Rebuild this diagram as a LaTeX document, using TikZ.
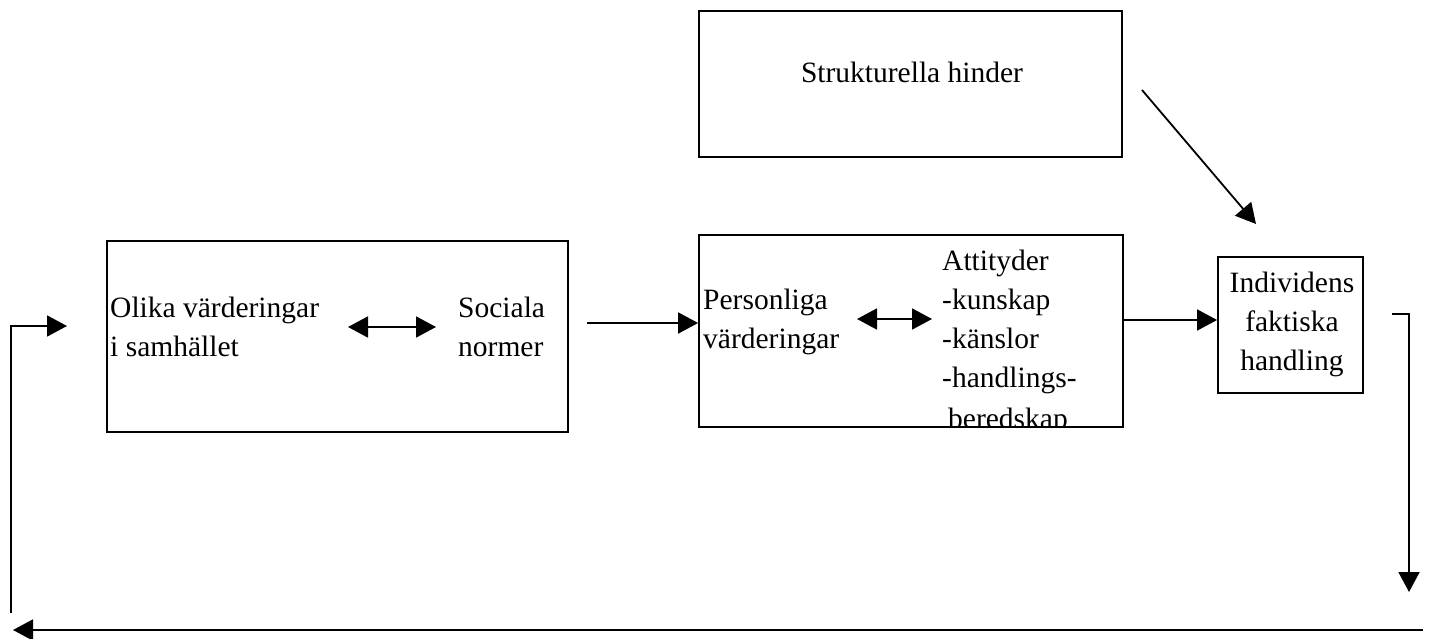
\documentclass[tikz,border=0pt]{standalone}
\usepackage{fontspec}
\setmainfont{Liberation Serif}
\usetikzlibrary{arrows.meta}
\begin{document}
\begin{tikzpicture}[x=1pt,y=-1pt,
  box/.style={draw, line width=1.8pt, inner sep=0pt},
  txt/.style={inner sep=0pt, font=\fontsize{29.5}{39}\selectfont},
  lbl/.style={txt, anchor=base west},
  clbl/.style={txt, anchor=base},
  tip/.tip={Triangle[length=20pt,width=21pt]},
  arr/.style={line width=1.8pt, -tip},
  darr/.style={line width=1.8pt, tip-tip},
  line/.style={line width=1.8pt}]
  \useasboundingbox (0,0) rectangle (1429,639);

  % Strukturella hinder
  \node[box, minimum width=423pt, minimum height=146pt] (hinder) at (910.5,84) {};
  \node[clbl] (hindertxt) at (912,83) {Strukturella hinder};

  % society values and social norms
  \node[box, minimum width=461pt, minimum height=191pt] (samh) at (337.5,336.5) {};
  \node[lbl] (olika) at (110,317) {Olika värderingar};
  \node[lbl] (isamh) at (110,356) {i samhället};
  \node[lbl] (soc) at (458,317) {Sociala};
  \node[lbl] (norm) at (458,356) {normer};
  \coordinate (sa) at (348,327);
  \coordinate (sb) at (436,327);
  \draw[darr] (sa) -- (sb);

  % personal values and attitudes
  \begin{scope}
    \clip (699,235) rectangle (1123,427);
    \node[lbl] (pers) at (703,309) {Personliga};
    \node[lbl] (pvard) at (703,348) {värderingar};
    \node[lbl] (att) at (942,270) {Attityder};
    \node[lbl] (kun) at (942,309) {-kunskap};
    \node[lbl] (kan) at (942,348) {-känslor};
    \node[lbl] (hand) at (942,387) {-handlings-};
    \node[lbl] (bered) at (948,428) {beredskap};
  \end{scope}
  \node[box, minimum width=424pt, minimum height=192pt] (pers box) at (911,331) {};
  \coordinate (pa) at (857,319);
  \coordinate (pb) at (932,319);
  \draw[darr] (pa) -- (pb);

  % the individual's action
  \node[box, minimum width=145pt, minimum height=136pt] (ind) at (1290.5,325) {};
  \node[clbl] (ind1) at (1292,292) {Individens};
  \node[clbl] (ind2) at (1292,331) {faktiska};
  \node[clbl] (ind3) at (1292,370) {handling};

  % connectors
  \coordinate (c1) at (587,323);
  \draw[arr] (c1) -- (c1 -| pers box.west);
  \coordinate (c2) at (1123,320);
  \draw[arr] (c2) -- (c2 -| ind.west);
  \coordinate (d1) at (1142,90);
  \coordinate (d2) at (1256,224);
  \draw[arr] (d1) -- (d2);

  % feedback loop
  \coordinate (f1) at (1392,314);
  \coordinate (f2) at (1409,592);
  \draw[arr] (f1) -| (f2);
  \coordinate (b1) at (1423,630);
  \coordinate (b2) at (13,630);
  \draw[arr] (b1) -- (b2);
  \coordinate (l1) at (11,613);
  \coordinate (l2) at (67,326);
  \draw[arr] (l1) |- (l2);
\end{tikzpicture}
\end{document}
